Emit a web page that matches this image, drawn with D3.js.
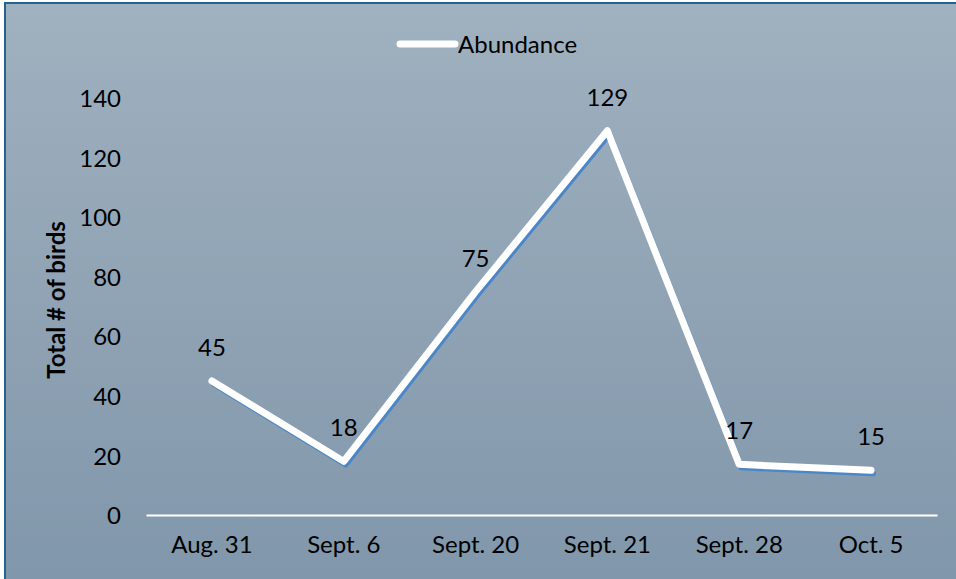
<!DOCTYPE html>
<html>
<head>
<meta charset="utf-8">
<script src="https://cdn.jsdelivr.net/npm/d3@7"></script>
<style>
  body { margin: 0; background: #ffffff; }
  svg text { font-family: Lato, "Open Sans", sans-serif; fill: #000; }
</style>
</head>
<body>
<svg id="chart" width="956" height="579"></svg>
<script>
"use strict";

// chart data
var dates = ["Aug. 31", "Sept. 6", "Sept. 20", "Sept. 21", "Sept. 28", "Oct. 5"];
var abundance = [45, 18, 75, 129, 17, 15];
var yTicks = [0, 20, 40, 60, 80, 100, 120, 140];
var seriesName = "Abundance";
var yTitle = "Total # of birds";

var svg = d3.select("#chart");
var width = +svg.attr("width");
var height = +svg.attr("height");

// background gradient
var defs = svg.append("defs");
var grad = defs.append("linearGradient")
    .attr("id", "bg")
    .attr("x1", 0).attr("y1", 0)
    .attr("x2", 0).attr("y2", 1);
grad.append("stop").attr("offset", "0%").attr("stop-color", "#a0b1bf");
grad.append("stop").attr("offset", "100%").attr("stop-color", "#8096aa");

svg.append("rect")
    .attr("x", 5)
    .attr("y", 3)
    .attr("width", width + 10)
    .attr("height", height + 10)
    .attr("fill", "url(#bg)")
    .attr("stroke", "#24628f")
    .attr("stroke-width", 2);

var plot = { left: 146, right: 937, top: 98, bottom: 515 };

var x = d3.scaleBand()
    .domain(dates)
    .range([plot.left, plot.right]);

var y = d3.scaleLinear()
    .domain([0, 140])
    .range([plot.bottom, plot.top]);

// y tick labels (no axis line)
var yAxis = d3.axisLeft(y)
    .tickValues(yTicks)
    .tickSize(0)
    .tickPadding(0);

var yG = svg.append("g")
    .attr("transform", "translate(121,0)")
    .call(yAxis);
yG.select(".domain").remove();
yG.selectAll("text")
    .style("font-size", "24px")
    .attr("dy", "0.36em");

// x axis
var xAxis = d3.axisBottom(x)
    .tickSize(0)
    .tickPadding(21);

var xG = svg.append("g")
    .attr("transform", "translate(0," + plot.bottom + ")")
    .call(xAxis);
xG.select(".domain")
    .attr("stroke", "#ffffff")
    .attr("stroke-width", 2);
xG.selectAll("text")
    .style("font-size", "24px");

// y axis title
svg.append("text")
    .attr("transform", "translate(65,300) rotate(-90)")
    .attr("text-anchor", "middle")
    .style("font-size", "24px")
    .style("font-weight", "bold")
    .text(yTitle);

// line with blue shadow
var line = d3.line()
    .x(function (d, i) { return x(dates[i]) + x.bandwidth() / 2; })
    .y(function (d) { return y(d); });

svg.append("path")
    .datum(abundance)
    .attr("transform", "translate(2,3)")
    .attr("fill", "none")
    .attr("stroke", "#4a86c8")
    .attr("stroke-width", 6)
    .attr("stroke-linejoin", "round")
    .attr("stroke-linecap", "round")
    .attr("d", line);

svg.append("path")
    .datum(abundance)
    .attr("fill", "none")
    .attr("stroke", "#ffffff")
    .attr("stroke-width", 7)
    .attr("stroke-linejoin", "round")
    .attr("stroke-linecap", "round")
    .attr("d", line);

// data labels
svg.append("g")
    .selectAll("text")
    .data(abundance)
    .join("text")
    .attr("x", function (d, i) { return x(dates[i]) + x.bandwidth() / 2; })
    .attr("y", function (d) { return y(d) - 25; })
    .attr("text-anchor", "middle")
    .style("font-size", "24px")
    .text(function (d) { return d; });

// legend
var legend = svg.append("g")
    .attr("transform", "translate(400,44)");
legend.append("line")
    .attr("x1", 0).attr("y1", 0)
    .attr("x2", 55).attr("y2", 0)
    .attr("stroke", "#ffffff")
    .attr("stroke-width", 7)
    .attr("stroke-linecap", "round");
legend.append("text")
    .attr("x", 58)
    .attr("y", 0)
    .attr("dy", "0.36em")
    .style("font-size", "24px")
    .text(seriesName);
</script>
</body>
</html>
